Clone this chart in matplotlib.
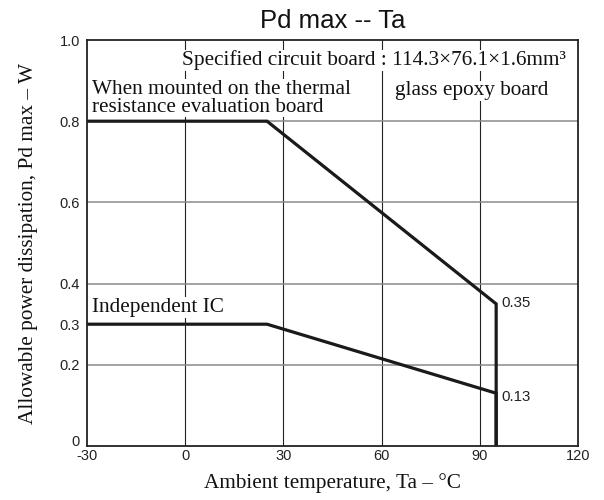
import matplotlib
matplotlib.use("Agg")
import matplotlib.pyplot as plt
from matplotlib.transforms import ScaledTranslation

# Data
board_x = [-30, 25, 95, 95]
board_y = [0.8, 0.8, 0.35, 0.0]
ic_x = [-30, 25, 95, 95]
ic_y = [0.3, 0.3, 0.13, 0.0]
x_ticks = [-30, 0, 30, 60, 90, 120]
y_ticks = [0, 0.2, 0.3, 0.4, 0.6, 0.8, 1.0]
y_tick_labels = ["0", "0.2", "0.3", "0.4", "0.6", "0.8", "1.0"]
v_grid = [0, 30, 60, 90]
h_grid = [0.2, 0.4, 0.6, 0.8]

SANS = "Liberation Sans"
SERIF = "Liberation Serif"
FS_SERIF = 15.3

fig = plt.figure(figsize=(6.04, 5.0), dpi=100)
ax = fig.add_axes([87/604, 54/500, (578-87)/604, (446-40)/500])
ax.set_xlim(-30, 120)
ax.set_ylim(0, 1.0)

for gx in v_grid:
    ax.axvline(gx, color="#222222", lw=0.8, zorder=1)
for gy in h_grid:
    ax.axhline(gy, color="#8a8a8a", lw=1.1, zorder=1)

ax.plot(board_x, board_y, color="#1a1a1a", lw=2.3, zorder=4, solid_joinstyle="miter")
ax.plot(ic_x, ic_y, color="#1a1a1a", lw=2.3, zorder=4, solid_joinstyle="miter")

ax.set_xticks(x_ticks)
ax.set_xticklabels([str(v) for v in x_ticks], fontfamily=SANS, fontsize=10.5, color="#222222")
ax.set_yticks(y_ticks)
ax.set_yticklabels(y_tick_labels, fontfamily=SANS, fontsize=10.5, color="#222222")
ax.tick_params(axis="x", length=0, pad=2)
ax.tick_params(axis="y", length=0, pad=5)

# lift the "0" y tick label slightly, as in the reference
zero_lbl = ax.yaxis.get_major_ticks()[0].label1
zero_lbl.set_transform(zero_lbl.get_transform() + ScaledTranslation(0, 5/100, fig.dpi_scale_trans))

for s in ax.spines.values():
    s.set_linewidth(1.3)
    s.set_color("#222222")
    s.set_zorder(5)

ax.set_title("Pd max -- Ta", fontfamily=SANS, fontsize=18.5, pad=8.5, color="#111111")
ax.set_xlabel("Ambient temperature, Ta \u2013 \u00b0C", fontfamily=SERIF, fontsize=FS_SERIF, color="#111111")
ax.set_ylabel("Allowable power dissipation, Pd max \u2013 W", fontfamily=SERIF, fontsize=FS_SERIF, color="#111111")
ax.xaxis.set_label_coords(0.5, -0.066)
ax.yaxis.set_label_coords(-0.100, 0.5)

bb = dict(facecolor="white", edgecolor="none", pad=0.5)
tk = dict(fontfamily=SERIF, fontsize=FS_SERIF, va="baseline", zorder=3, bbox=bb, color="#111111")
ax.text(-1.0, 0.938, "Specified circuit board : 114.3\u00d776.1\u00d71.6mm\u00b3", ha="left", **tk)
ax.text(64.1, 0.864, "glass epoxy board", ha="left", **tk)
ax.text(-28.5, 0.823, "When mounted on the thermal\nresistance evaluation board",
        ha="left", linespacing=0.95, **tk)
ax.text(-28.5, 0.330, "Independent IC", ha="left", **tk)

ax.text(96.7, 0.351, "0.35", fontfamily=SANS, fontsize=10.8, ha="left", va="center", zorder=3, color="#222222")
ax.text(96.7, 0.121, "0.13", fontfamily=SANS, fontsize=10.8, ha="left", va="center", zorder=3, color="#222222")

fig.savefig("out.png", dpi=100)
